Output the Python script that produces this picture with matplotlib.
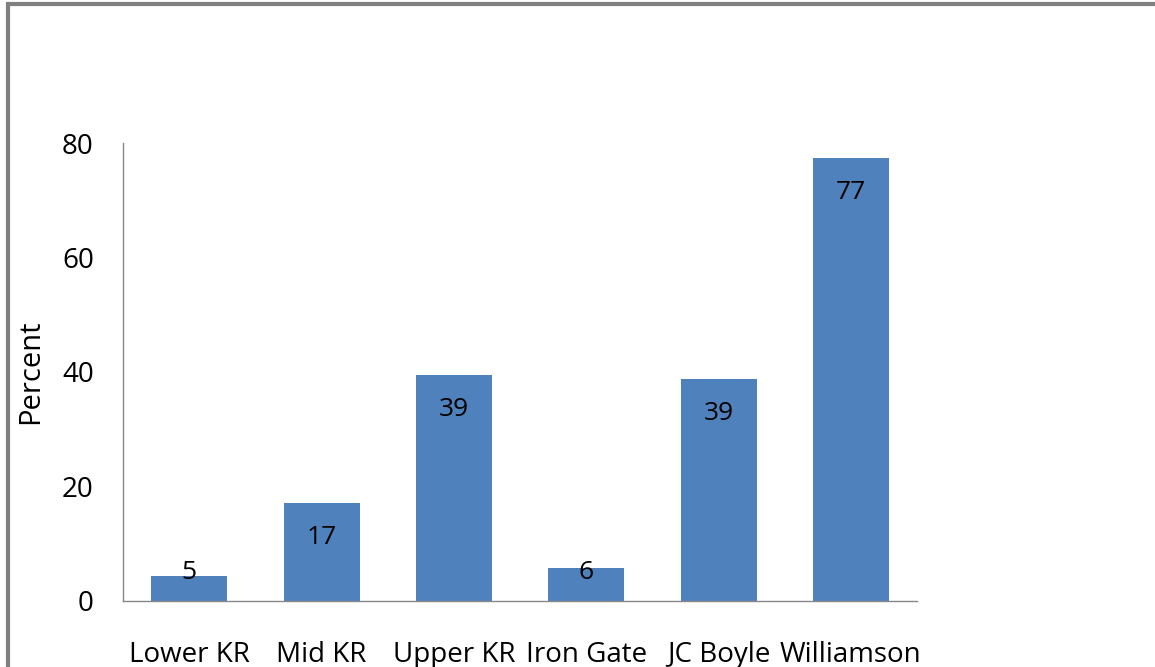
import matplotlib.pyplot as plt
from matplotlib.patches import Rectangle

plt.rcParams['font.family'] = ['Open Sans', 'DejaVu Sans']

sites = ['Lower KR', 'Mid KR', 'Upper KR', 'Iron Gate', 'JC Boyle', 'Williamson']
percent = [4.4, 17.1, 39.5, 5.8, 38.8, 77.4]
labels = ['5', '17', '39', '6', '39', '77']

fig = plt.figure(figsize=(11.55, 6.67), dpi=100)
ax = fig.add_axes([0.1065, 0.099, 0.6875, 0.6866])

x = range(len(sites))
ax.bar(x, percent, width=0.574, color='#4F81BD')

# data labels inside top of bars (kept above the axis for short bars)
for i, (h, lab) in enumerate(zip(percent, labels)):
    ax.text(i, max(h - 6.1, 4.9), lab, ha='center', va='center', fontsize=19, color='black')

ax.set_xlim(-0.5, len(sites) - 0.5)
ax.set_ylim(0, 80)
ax.set_yticks([0, 20, 40, 60, 80])
ax.set_xticks(list(x))
ax.set_xticklabels(sites)
ax.tick_params(axis='both', length=0, labelsize=20)
ax.tick_params(axis='x', pad=29)
ax.tick_params(axis='y', pad=21)
ax.set_ylabel('Percent', fontsize=21, labelpad=12)

for s in ['top', 'right']:
    ax.spines[s].set_visible(False)
for s in ['left', 'bottom']:
    ax.spines[s].set_color('#888888')
    ax.spines[s].set_linewidth(1)

# outer frame, cut off on right and bottom like the screenshot
fig.patches.append(Rectangle((8 / 1155, -0.1), 1.2, 1.1 - 4 / 667, transform=fig.transFigure,
                             fill=False, edgecolor='#808080', linewidth=3))

fig.savefig('out.png', dpi=100)
